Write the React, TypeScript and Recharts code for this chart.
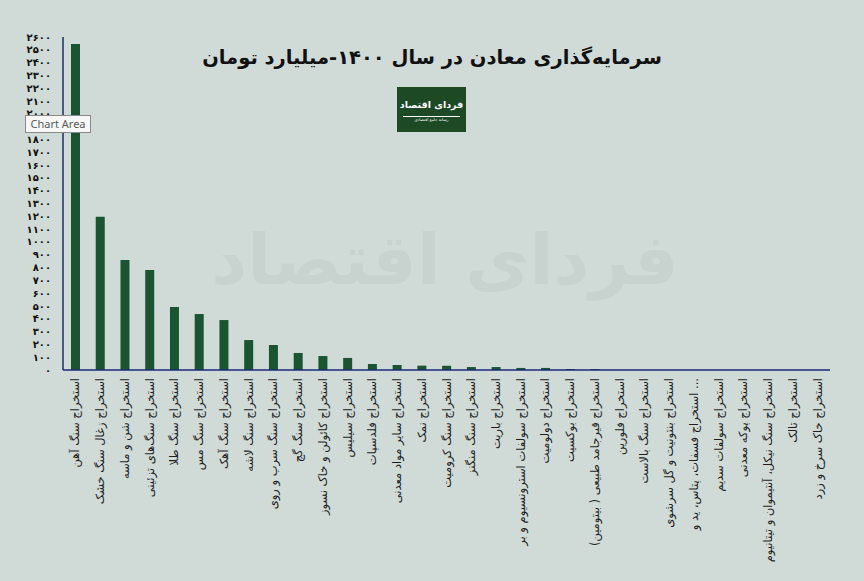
import React from "react";
import { BarChart, Bar, XAxis, YAxis } from "recharts";

const categories = [
  "استخراج سنگ آهن",
  "استخراج زغال سنگ خشک",
  "استخراج شن و ماسه",
  "استخراج سنگ‌های تزئینی",
  "استخراج سنگ طلا",
  "استخراج سنگ مس",
  "استخراج سنگ آهک",
  "استخراج سنگ لاشه",
  "استخراج سنگ سرب و روی",
  "استخراج سنگ گچ",
  "استخراج کائولن و خاک نسوز",
  "استخراج سیلیس",
  "استخراج فلدسپات",
  "استخراج سایر مواد معدنی",
  "استخراج نمک",
  "استخراج سنگ کرومیت",
  "استخراج سنگ منگنز",
  "استخراج باریت",
  "استخراج سولفات استرونسیوم و بر",
  "استخراج دولومیت",
  "استخراج بوکسیت",
  "استخراج قیرجامد طبیعی ( بیتومین)",
  "استخراج فلورین",
  "استخراج سنگ بالاست",
  "استخراج بنتونیت و گل سرشوی",
  "استخراج فسفات، پتاس، ید و ...",
  "استخراج سولفات سدیم",
  "استخراج پوکه معدنی",
  "استخراج سنگ نیکل، آنتیموان و تیتانیوم",
  "استخراج تالک",
  "استخراج خاک سرخ و زرد",
];

const values = [
  2545, 1197, 859, 781, 492, 437, 390, 234, 195, 133, 109, 94, 47, 39, 34, 33,
  23, 23, 16, 16, 8, 8, 0, 0, 0, 0, 0, 0, 0, 0, 0,
];

const yTicks = [
  0, 100, 200, 300, 400, 500, 600, 700, 800, 900, 1000, 1100, 1200, 1300, 1400,
  1500, 1600, 1700, 1800, 1900, 2000, 2100, 2200, 2300, 2400, 2500, 2600,
];

const title = "سرمایه‌گذاری معادن در سال ۱۴۰۰-میلیارد تومان";

const data = categories.map((name, i) => ({ name, value: values[i] }));

const faDigits = "۰۱۲۳۴۵۶۷۸۹";
const toFa = (v: number | string) =>
  String(v).replace(/[0-9]/g, (d) => faDigits[Number(d)]);

const XTick = (props: any) => {
  const { x, y, payload } = props;
  return (
    <g transform={`translate(${x},${y})`}>
      <text
        transform="rotate(-90)"
        x={-8}
        y={0}
        dy="0.35em"
        textAnchor="end"
        fontSize={11.5}
        fill="#1e1e1e"
        fontFamily="'DejaVu Sans', sans-serif"
      >
        {payload.value}
      </text>
    </g>
  );
};

export default function App() {
  return (
    <div
      style={{
        position: "fixed",
        left: 0,
        top: 0,
        width: 864,
        height: 581,
        background: "#d0dad7",
        overflow: "hidden",
        fontFamily: "'DejaVu Sans', sans-serif",
      }}
    >
      <div
        style={{
          position: "absolute",
          left: 170,
          top: 190,
          width: 550,
          textAlign: "center",
          fontSize: 70,
          fontWeight: "bold",
          color: "#c8d3cf",
          lineHeight: "140px",
          direction: "rtl",
          whiteSpace: "nowrap",
        }}
      >
        فردای اقتصاد
      </div>
      <div style={{ position: "absolute", left: 0, top: 0 }}>
        <BarChart
          width={864}
          height={581}
          data={data}
          margin={{ top: 37, right: 34, left: 8, bottom: 11 }}
        >
          <XAxis
            dataKey="name"
            interval={0}
            height={200}
            tick={<XTick />}
            tickLine={false}
            tickSize={0}
            tickMargin={0}
            axisLine={{ stroke: "#1b2a78", strokeWidth: 1.5 }}
          />
          <YAxis
            width={55}
            domain={[0, 2600]}
            ticks={yTicks}
            interval={0}
            tickLine={false}
            tickSize={0}
            tickMargin={12}
            tickFormatter={toFa}
            tick={{ fontSize: 10, fontWeight: "bold", fill: "#111" }}
            axisLine={{ stroke: "#1b2a78", strokeWidth: 1.5 }}
          />
          <Bar dataKey="value" fill="#1b5431" barSize={9} isAnimationActive={false} />
        </BarChart>
      </div>
      <div
        style={{
          position: "absolute",
          left: 0,
          top: 46,
          width: 864,
          textAlign: "center",
          fontSize: 19.5,
          fontWeight: "bold",
          color: "#111",
          direction: "rtl",
        }}
      >
        {title}
      </div>
      <div
        style={{
          position: "absolute",
          left: 397,
          top: 87,
          width: 69,
          height: 45,
          background: "#1d4a25",
          color: "#fff",
          textAlign: "center",
          direction: "rtl",
          overflow: "hidden",
        }}
      >
        <div
          style={{
            fontSize: 9.5,
            fontWeight: "bold",
            lineHeight: "22px",
            marginTop: 7,
            whiteSpace: "nowrap",
          }}
        >
          فردای اقتصاد
        </div>
        <div
          style={{
            margin: "0 6px",
            borderTop: "1px solid #fff",
            fontSize: 4,
            lineHeight: "6px",
            whiteSpace: "nowrap",
          }}
        >
          رسانه جامع اقتصادی
        </div>
      </div>
      <div
        style={{
          position: "absolute",
          left: 25,
          top: 115,
          width: 66,
          height: 18,
          background: "#f7f7f7",
          border: "1px solid #8a8a8a",
          boxSizing: "border-box",
          fontFamily: "'Noto Sans', sans-serif",
          fontSize: 11,
          lineHeight: "16px",
          color: "#5a5a5a",
          textAlign: "center",
        }}
      >
        Chart Area
      </div>
    </div>
  );
}
